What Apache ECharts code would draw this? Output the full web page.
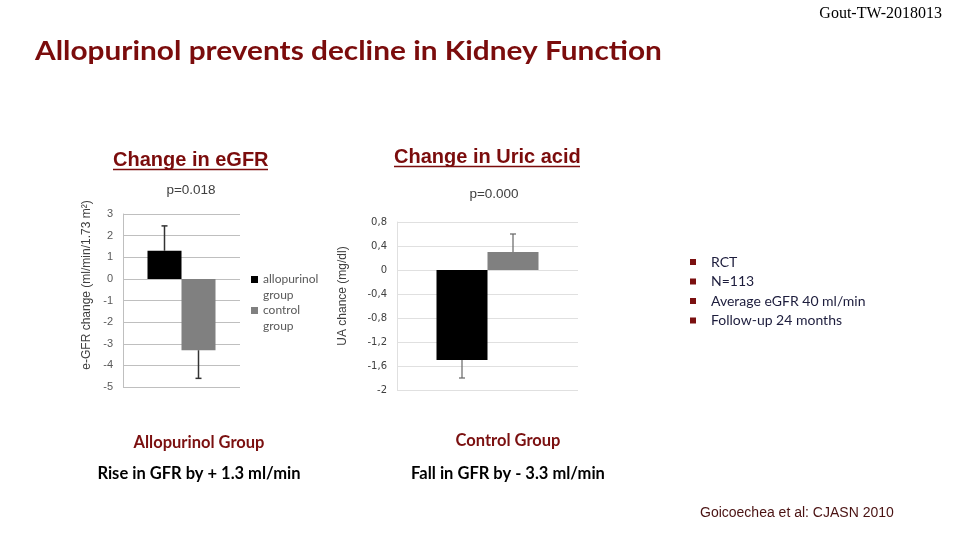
<!DOCTYPE html>
<html>
<head>
<meta charset="utf-8">
<script src="https://cdn.jsdelivr.net/npm/echarts@6/dist/echarts.min.js"></script>
<style>
html,body{margin:0;padding:0;background:#fff;}
#c{width:958px;height:540px;}
</style>
</head>
<body>
<div id="c"></div>
<script>
// ---- data ----
const gfrSeriesNames = ['allopurinol group', 'control group'];
const gfrValues = [1.3, -3.3];
const gfrErrEnds = [2.45, -4.6];
const uaValues = [-1.5, 0.3];
const uaErrEnds = [-1.8, 0.6];
const gfrTicks = { min: -5, max: 3, interval: 1 };
const uaTicks = { min: -2, max: 0.8, interval: 0.4 };
const barColors = ['#000000', '#808080'];
const bulletItems = ['RCT', 'N=113', 'Average eGFR 40 ml/min', 'Follow-up 24 months'];

const chart = echarts.init(document.getElementById('c'), null, { renderer: 'canvas' });

function errSeries(name, xIdx, yIdx, values, ends, halfW, color, lw) {
  return {
    name: name, type: 'custom', xAxisIndex: xIdx, yAxisIndex: yIdx, z: 5,
    data: values.map((v, i) => [0, v, ends[i], i]),
    renderItem: function (params, api) {
      const i = api.value(3);
      const c0 = api.coord([0, api.value(1)]);
      const c1 = api.coord([0, api.value(2)]);
      const x = c0[0] + (i === 0 ? -halfW : halfW);
      return {
        type: 'group',
        children: [
          { type: 'line', shape: { x1: x, y1: c0[1], x2: x, y2: c1[1] }, style: { stroke: color, lineWidth: lw } },
          { type: 'line', shape: { x1: x - 3, y1: c1[1], x2: x + 3, y2: c1[1] }, style: { stroke: color, lineWidth: lw } }
        ]
      };
    },
    silent: true
  };
}

const uaFmt = v => Number(v.toFixed(1)).toString().replace('.', ',');

const option = {
  backgroundColor: '#ffffff',
  animation: false,
  legend: {
    data: gfrSeriesNames,
    orient: 'vertical',
    left: 251, top: 272, padding: 0,
    itemWidth: 7, itemHeight: 7, itemGap: 16,
    icon: 'rect',
    formatter: n => n.split(' ')[0],
    textStyle: { fontFamily: 'Lato', fontSize: 12, color: '#595959', lineHeight: 15 }
  },
  grid: [
    { left: 123, right: 718, top: 214, bottom: 153 },
    { left: 397, right: 380, top: 222, bottom: 150 }
  ],
  xAxis: [
    { type: 'category', gridIndex: 0, data: [''], axisLine: { show: false }, axisTick: { show: false }, axisLabel: { show: false } },
    { type: 'category', gridIndex: 1, data: [''], axisLine: { show: false }, axisTick: { show: false }, axisLabel: { show: false } }
  ],
  yAxis: [
    {
      type: 'value', gridIndex: 0, min: gfrTicks.min, max: gfrTicks.max, interval: gfrTicks.interval,
      axisLine: { show: true, lineStyle: { color: '#bfbfbf' } }, axisTick: { show: false },
      splitLine: { lineStyle: { color: '#bfbfbf' } },
      axisLabel: { margin: 10, fontFamily: 'Liberation Sans', fontSize: 11, color: '#595959' }
    },
    {
      type: 'value', gridIndex: 1, min: uaTicks.min, max: uaTicks.max, interval: uaTicks.interval,
      axisLine: { show: true, lineStyle: { color: '#e0e0e0' } }, axisTick: { show: false },
      splitLine: { lineStyle: { color: '#e0e0e0' } },
      axisLabel: { margin: 10, fontFamily: 'DejaVu Sans', fontSize: 10, color: '#404040', formatter: uaFmt }
    }
  ],
  series: [
    { name: gfrSeriesNames[0], type: 'bar', xAxisIndex: 0, yAxisIndex: 0, data: [gfrValues[0]], barWidth: 34, barGap: '0%', itemStyle: { color: barColors[0] } },
    { name: gfrSeriesNames[1], type: 'bar', xAxisIndex: 0, yAxisIndex: 0, data: [gfrValues[1]], barWidth: 34, barGap: '0%', itemStyle: { color: barColors[1] } },
    { name: 'UA allopurinol', type: 'bar', xAxisIndex: 1, yAxisIndex: 1, data: [uaValues[0]], barWidth: 51, barGap: '0%', itemStyle: { color: barColors[0] } },
    { name: 'UA control', type: 'bar', xAxisIndex: 1, yAxisIndex: 1, data: [uaValues[1]], barWidth: 51, barGap: '0%', itemStyle: { color: barColors[1] } },
    errSeries('gfr err', 0, 0, gfrValues, gfrErrEnds, 17, '#333333', 1.5),
    errSeries('ua err', 1, 1, uaValues, uaErrEnds, 25.5, '#666666', 1.2)
  ],
  graphic: [
    { type: 'text', x: 942, y: 14, style: { text: 'Gout-TW-2018013', font: '16px "Liberation Serif"', fill: '#000', align: 'right', verticalAlign: 'middle' } },
    { type: 'text', x: 35, y: 51, scaleX: 1.104, style: { text: 'Allopurinol prevents decline in Kidney Function', font: 'bold 27px Lato', fill: '#7b0c0c', verticalAlign: 'middle' } },
    { type: 'text', x: 113, y: 160, style: { text: 'Change in eGFR', font: 'bold 20px "Liberation Sans"', fill: '#7b0c0c', verticalAlign: 'middle' } },
    { type: 'line', shape: { x1: 113, y1: 169.5, x2: 268, y2: 169.5 }, style: { stroke: '#7b0c0c', lineWidth: 1.6 } },
    { type: 'text', x: 394, y: 157, style: { text: 'Change in Uric acid', font: 'bold 20px "Liberation Sans"', fill: '#7b0c0c', verticalAlign: 'middle' } },
    { type: 'line', shape: { x1: 394, y1: 166.5, x2: 580, y2: 166.5 }, style: { stroke: '#7b0c0c', lineWidth: 1.6 } },
    { type: 'text', x: 191, y: 190, style: { text: 'p=0.018', font: '13.5px "Liberation Sans"', fill: '#404040', align: 'center', verticalAlign: 'middle' } },
    { type: 'text', x: 494, y: 194, style: { text: 'p=0.000', font: '13.5px "Liberation Sans"', fill: '#404040', align: 'center', verticalAlign: 'middle' } },
    { type: 'text', x: 87, y: 285, rotation: Math.PI / 2, style: { text: 'e-GFR change (ml/min/1.73 m\u00b2)', font: '12px "Liberation Sans"', fill: '#404040', align: 'center', verticalAlign: 'middle' } },
    { type: 'text', x: 343, y: 296, rotation: Math.PI / 2, style: { text: 'UA chance (mg/dl)', font: '12px "Liberation Sans"', fill: '#404040', align: 'center', verticalAlign: 'middle' } },
    { type: 'text', x: 263, y: 295, style: { text: 'group', font: '12px Lato', fill: '#595959', verticalAlign: 'middle' } },
    { type: 'text', x: 263, y: 326, style: { text: 'group', font: '12px Lato', fill: '#595959', verticalAlign: 'middle' } },
    { type: 'text', x: 199, y: 443, style: { text: 'Allopurinol Group', font: 'bold 16.5px Lato', fill: '#7b1010', align: 'center', verticalAlign: 'middle' } },
    { type: 'text', x: 199, y: 474, style: { text: 'Rise in GFR by + 1.3 ml/min', font: 'bold 16.5px Lato', fill: '#000', align: 'center', verticalAlign: 'middle' } },
    { type: 'text', x: 508, y: 441, style: { text: 'Control Group', font: 'bold 16.5px Lato', fill: '#7b1010', align: 'center', verticalAlign: 'middle' } },
    { type: 'text', x: 508, y: 474, style: { text: 'Fall in GFR by - 3.3 ml/min', font: 'bold 16.5px Lato', fill: '#000', align: 'center', verticalAlign: 'middle' } },
    { type: 'text', x: 700, y: 513, style: { text: 'Goicoechea et al: CJASN 2010', font: '14px "Liberation Sans"', fill: '#4a1212', verticalAlign: 'middle' } }
  ].concat(bulletItems.flatMap((t, i) => [
    { type: 'rect', shape: { x: 690, y: 259 + i * 19.5, width: 6, height: 6 }, style: { fill: '#7b1010' } },
    { type: 'text', x: 711, y: 262 + i * 19.5, style: { text: t, font: '14px Lato', fill: '#1c1c3c', verticalAlign: 'middle' } }
  ]))
};
chart.setOption(option);
</script>
</body>
</html>
